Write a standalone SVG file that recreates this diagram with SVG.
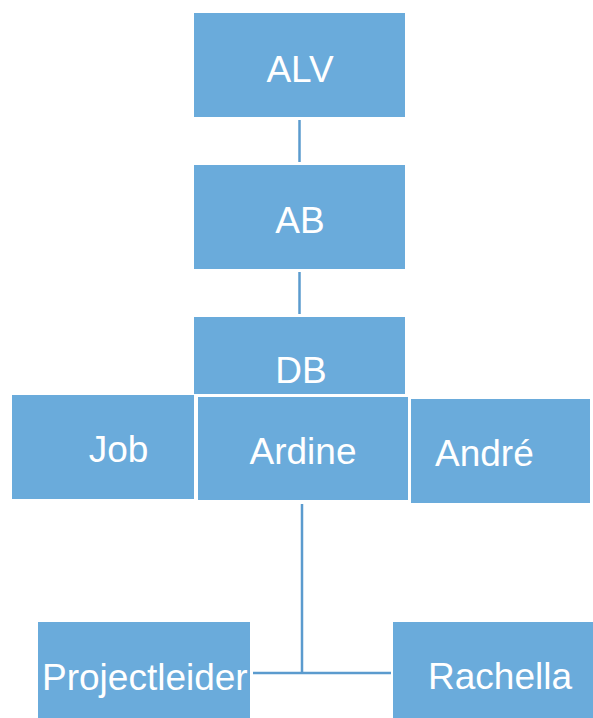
<svg xmlns="http://www.w3.org/2000/svg" width="593" height="718" viewBox="0 0 593 718">
<style>
.box{fill:#6aabdb;}
.bx2{fill:#6aabdb;stroke:#ffffff;stroke-width:2;}
.t{font-family:"Liberation Sans",Arial,sans-serif;font-size:37px;fill:#ffffff;}
.c{text-anchor:middle;}
.ln{stroke:#5b9bce;stroke-width:2.5;fill:none;}
</style>
<rect width="593" height="718" fill="#ffffff"/>
<g id="connectors">
<line class="ln" x1="299.5" y1="120" x2="299.5" y2="162"/>
<line class="ln" x1="299.5" y1="272" x2="299.5" y2="314"/>
<line class="ln" x1="302" y1="504" x2="302" y2="674"/>
<line class="ln" x1="253" y1="673" x2="391" y2="673"/>
</g>
<g id="alv"><rect class="box" x="194" y="13" width="211" height="104"/><text class="t c" x="300" y="82">ALV</text></g>
<g id="ab"><rect class="box" x="194" y="165" width="211" height="104"/><text class="t c" x="300" y="233">AB</text></g>
<g id="db"><rect class="box" x="194" y="317" width="211" height="77"/><text class="t c" x="301" y="383">DB</text></g>
<g id="job"><rect class="box" x="12" y="395" width="182" height="104"/><text class="t c" x="118.5" y="462">Job</text></g>
<g id="ardine"><rect class="bx2" x="197" y="396" width="212" height="105"/><text class="t c" x="303" y="464">Ardine</text></g>
<g id="andre"><rect class="box" x="411" y="399" width="179" height="104"/><text class="t" x="435" y="466">André</text></g>
<g id="projectleider"><rect class="box" x="38" y="622" width="212" height="96"/><text class="t" x="42" y="690">Projectleider</text></g>
<g id="rachella"><rect class="box" x="393" y="622" width="200" height="96"/><text class="t" x="428" y="689">Rachella</text></g>
</svg>
